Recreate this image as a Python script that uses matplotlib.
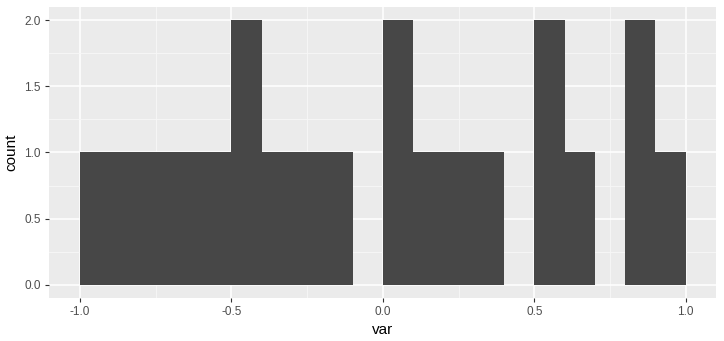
import numpy as np
import matplotlib.pyplot as plt
from matplotlib.ticker import MultipleLocator

plt.rcParams['font.family'] = ['Liberation Sans', 'DejaVu Sans']

# Histogramm: 20 Klassen der Breite 0.1 von -1 bis 1
bin_edges = np.linspace(-1.0, 1.0, 21)
counts = [1, 1, 1, 1, 1, 2, 1, 1, 1, 0,
          2, 1, 1, 1, 0, 2, 1, 0, 2, 1]

x_ticks = [-1.0, -0.5, 0.0, 0.5, 1.0]
x_labels = ["-1.0", "-0.5", "0.0", "0.5", "1.0"]
y_ticks = [0.0, 0.5, 1.0, 1.5, 2.0]
y_labels = ["0.0", "0.5", "1.0", "1.5", "2.0"]

fig = plt.figure(figsize=(7.24, 3.41), dpi=100)
ax = fig.add_axes([49 / 724, 43 / 341, 667 / 724, 291 / 341])

ax.set_facecolor("#EBEBEB")
ax.stairs(counts, bin_edges, fill=True, color="#474747", zorder=3)

ax.set_xlim(-1.102, 1.1)
ax.set_ylim(-0.1, 2.1)

ax.set_xticks(x_ticks)
ax.set_xticklabels(x_labels)
ax.set_yticks(y_ticks)
ax.set_yticklabels(y_labels)
ax.xaxis.set_minor_locator(MultipleLocator(0.25))
ax.yaxis.set_minor_locator(MultipleLocator(0.25))

# Gitterlinien im ggplot-Stil
ax.grid(which="major", color="white", linewidth=1.1, zorder=1)
ax.grid(which="minor", color="#F7F7F7", linewidth=0.6, zorder=1)
ax.set_axisbelow(True)

for s in ax.spines.values():
    s.set_visible(False)

ax.tick_params(which="major", length=3, width=0.8, color="#333333",
               labelcolor="#4D4D4D", labelsize=8.5, pad=3)
ax.tick_params(which="minor", length=0)

ax.set_xlabel("var", fontsize=11, color="black", labelpad=3)
ax.set_ylabel("count", fontsize=11, color="black", labelpad=4)

plt.savefig("out.png", dpi=100)
